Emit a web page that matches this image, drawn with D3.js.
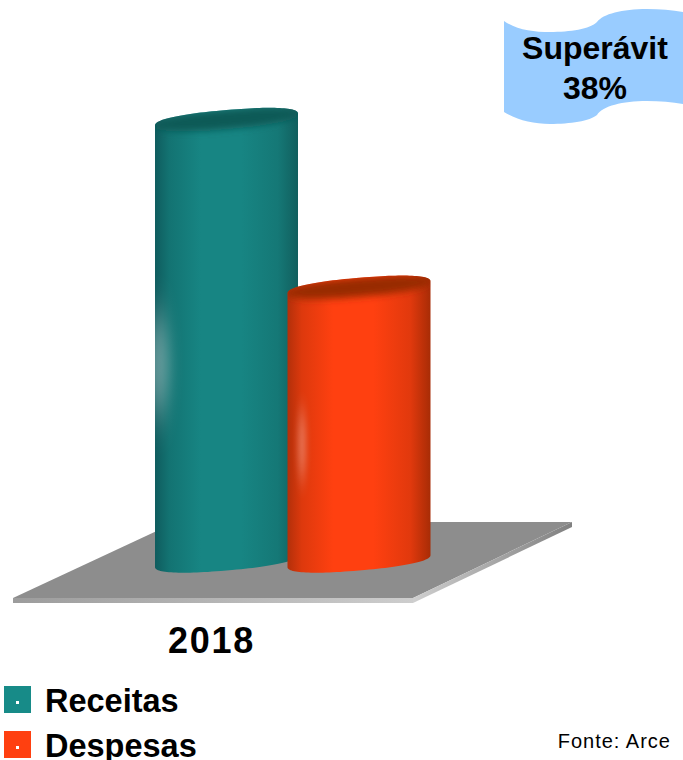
<!DOCTYPE html>
<html>
<head>
<meta charset="utf-8">
<script src="https://cdn.jsdelivr.net/npm/d3@7"></script>
<style>
    html, body { margin: 0; padding: 0; background: #fff; }
    svg { display: block; font-family: "Liberation Sans", Arial, sans-serif; }
</style>
</head>
<body>
<svg id="chart" width="683" height="760"></svg>
<script>
const years = ["2018"];
const seriesNames = ["Receitas", "Despesas"];
const seriesValues = [100, 62];   // share of revenue, surplus = 38%
const surplusLabel = ["Superávit", "38%"];
const sourceLabel = "Fonte: Arce";

const W = 683, H = 760;
const svg = d3.select("#chart").attr("viewBox", `0 0 ${W} ${H}`);
const defs = svg.append("defs");

const x = d3.scalePoint().domain(seriesNames).range([226.5, 359]);
const y = d3.scaleLinear().domain([0, 100]).range([561, 119.5]);

const RX = 71.5, RY = 9.5, TILT = 6, ROUND = 0.86;
const PALETTE = {
    Receitas: { main: "#178583", side: "#0f5c5e", far: "#115f5e", top: "#115a56", swatch: "#178b88" },
    Despesas: { main: "#ff4010", side: "#b3300a", far: "#a82c06", top: "#982b06", swatch: "#ff4010" }
};

// ── Floor ─────────────────────────────────────────────────────────
const line = d3.line();
const frontGrad = defs.append("linearGradient").attr("id", "floorFront");
frontGrad.append("stop").attr("offset", "0%").attr("stop-color", "#9c9c9c");
frontGrad.append("stop").attr("offset", "100%").attr("stop-color", "#cdcdcd");
const sideGrad = defs.append("linearGradient").attr("id", "floorSide");
sideGrad.append("stop").attr("offset", "0%").attr("stop-color", "#cfcfcf");
sideGrad.append("stop").attr("offset", "100%").attr("stop-color", "#808080");

svg.append("path")
    .attr("d", line([[13, 598], [413, 598], [572, 522], [176, 522]]) + "Z")
    .attr("fill", "#8d8d8d");
svg.append("path")
    .attr("d", line([[413, 598], [572, 522], [572, 527], [413, 603]]) + "Z")
    .attr("fill", "url(#floorSide)");
svg.append("rect")
    .attr("x", 13).attr("y", 598).attr("width", 400).attr("height", 5)
    .attr("fill", "url(#floorFront)");

// ── Cylinders ─────────────────────────────────────────────────────
// points on a tilted, slightly squared ellipse, t in radians
function ellipsePoint(cx, cy, t) {
    const c = Math.cos(t), s = Math.sin(t);
    const cp = Math.sign(c) * Math.pow(Math.abs(c), ROUND);
    const sp = Math.sign(s) * Math.pow(Math.abs(s), ROUND);
    return [cx + RX * cp, cy + RY * sp - TILT * cp];
}
function ellipseArc(cx, cy, t0, t1) {
    return d3.range(0, 61).map(i => ellipsePoint(cx, cy, t0 + (t1 - t0) * i / 60));
}

seriesNames.forEach((name, i) => {
    const cx = x(name), yTop = y(seriesValues[i]), yBase = y(0);
    const c = PALETTE[name];

    const grad = defs.append("linearGradient").attr("id", `body${i}`);
    [[0, c.side], [0.1, d3.interpolate(c.side, c.main)(0.55)], [0.32, c.main], [0.6, c.main],
     [0.86, d3.interpolate(c.main, c.far)(0.35)], [1, c.far]].forEach(([o, col]) => {
        grad.append("stop").attr("offset", `${o * 100}%`).attr("stop-color", col);
    });

    const bottom = ellipseArc(cx, yBase, 0, Math.PI);
    const upper = ellipseArc(cx, yTop, Math.PI, 2 * Math.PI);
    const outline = line([...upper, ...bottom]) + "Z";

    const g = svg.append("g");
    g.append("path").attr("d", outline).attr("fill", `url(#body${i})`);

    const blur = defs.append("filter").attr("id", `soft${i}`)
        .attr("x", "-150%").attr("y", "-50%").attr("width", "400%").attr("height", "200%");
    blur.append("feGaussianBlur").attr("stdDeviation", i ? "3 12" : "7 20");
    const lidBlur = defs.append("filter").attr("id", `lidBlur${i}`)
        .attr("x", "-10%").attr("y", "-50%").attr("width", "120%").attr("height", "200%");
    lidBlur.append("feGaussianBlur").attr("stdDeviation", "0 3.5");
    defs.append("clipPath").attr("id", `clip${i}`).append("path").attr("d", outline);

    const inner = g.append("g").attr("clip-path", `url(#clip${i})`);

    // lid fades into the body along its near edge
    inner.append("path")
        .attr("d", line(ellipseArc(cx, yTop, 0, 2 * Math.PI)) + "Z")
        .attr("fill", c.top)
        .attr("filter", `url(#lidBlur${i})`);

    // soft highlight streak on the left of each cylinder
    inner.append("ellipse")
        .attr("cx", cx - (i ? 57 : 68))
        .attr("cy", i ? 445 : 365)
        .attr("rx", i ? 4 : 11)
        .attr("ry", i ? 36 : 52)
        .attr("fill", "#fff")
        .attr("opacity", i ? 0.3 : 0.36)
        .attr("filter", `url(#soft${i})`);
});

// ── Category label ────────────────────────────────────────────────
svg.append("text").attr("x", 211.5).attr("y", 653)
    .attr("text-anchor", "middle").attr("font-size", 36).attr("font-weight", 700)
    .attr("letter-spacing", 1.7).attr("fill", "#000")
    .text(years[0]);

// ── Legend ────────────────────────────────────────────────────────
const legendY = d3.scalePoint().domain(seriesNames).range([686, 731]);
seriesNames.forEach(name => {
    const ly = legendY(name);
    svg.append("rect").attr("x", 4).attr("y", ly).attr("width", 27).attr("height", 27)
        .attr("fill", PALETTE[name].swatch);
    svg.append("rect").attr("x", 16).attr("y", ly + 15).attr("width", 3).attr("height", 3)
        .attr("fill", "#fff");
    svg.append("text").attr("x", 45).attr("y", ly + 26)
        .attr("font-size", 32.5).attr("font-weight", 700).attr("fill", "#000")
        .text(name);
});

svg.append("text").attr("x", 671).attr("y", 748)
    .attr("text-anchor", "end").attr("font-size", 20).attr("letter-spacing", 1)
    .attr("fill", "#000").text(sourceLabel);

// ── Surplus banner ────────────────────────────────────────────────
svg.append("path")
    .attr("d", "M504,21 C517,30 533,32 550,32 C570,32 590,29 597,22 C603,14 622,9 647,9 C660,9 672,10 683,12 L683,104 C672,102 660,101 647,101 C622,101 603,106 597,115 C590,121 570,124 550,124 C533,124 517,120 504,112 Z")
    .attr("fill", "#99ccff");
surplusLabel.forEach((t, i) => {
    svg.append("text").attr("x", 595).attr("y", 59 + i * 40)
        .attr("text-anchor", "middle").attr("font-size", 32).attr("font-weight", 700)
        .attr("fill", "#000").text(t);
});
</script>
</body>
</html>
